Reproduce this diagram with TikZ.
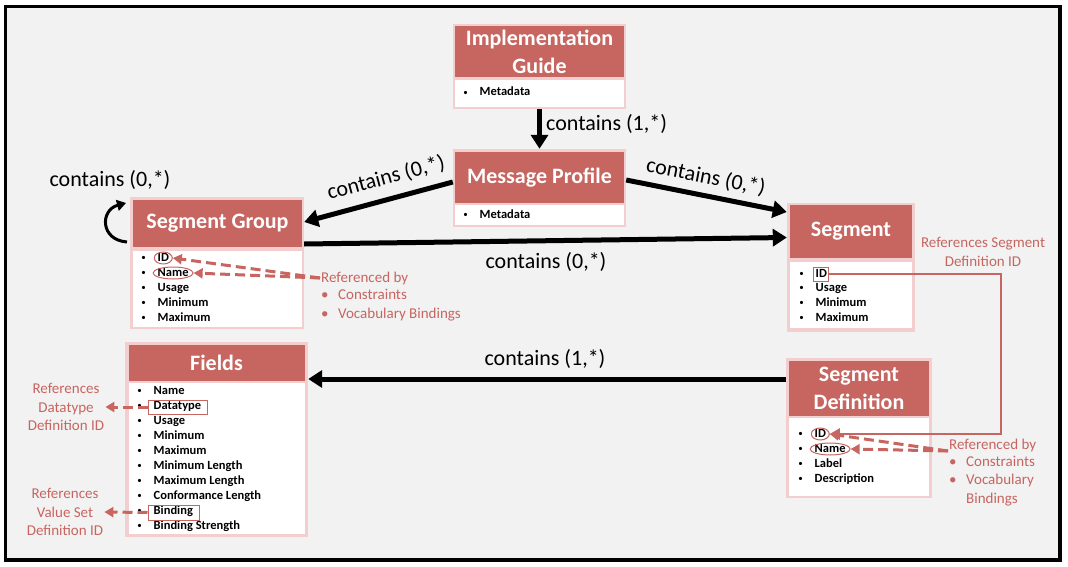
\documentclass[tikz,border=0pt]{standalone}
\usepackage{fontspec}
\setmainfont{Carlito}
\usetikzlibrary{arrows.meta,shapes.geometric,positioning}
\definecolor{headred}{RGB}{199,101,96}
\definecolor{framepink}{RGB}{242,207,206}
\definecolor{annored}{RGB}{199,101,96}
\definecolor{canvas}{RGB}{242,242,242}
\tikzset{
  entframe/.style={fill=framepink, inner sep=0pt},
  enthead/.style={fill=headred, text=white, inner sep=0pt, align=center, font=\bfseries\fontsize{22}{28}\selectfont},
  entbody/.style={fill=white, inner sep=0pt},
  entitem/.style={anchor=west, inner sep=0.5pt, text height=8.5pt, text depth=2.5pt,
    font=\bfseries\fontsize{12.5}{14}\selectfont,
    label={[font=\fontsize{9}{9}\selectfont, inner sep=0pt, label distance=11pt]left:•}},
  contlabel/.style={font=\fontsize{22}{26}\selectfont, inner sep=1pt},
  annotext/.style={text=annored, inner sep=1pt, font=\fontsize{15}{18.5}\selectfont},
  annoring/.style={ellipse, draw=annored, line width=1pt, inner sep=0pt},
  annobox/.style={draw=annored, line width=1pt, inner sep=0pt},
  bigarrow/.style={line width=5pt, -{Triangle[length=14pt,width=17pt]}},
  looparrow/.style={line width=3pt, -{Triangle[length=9pt,width=11pt]}},
  annodash/.style={draw=annored, line width=3pt, dash pattern=on 10pt off 5pt, -{Triangle[length=9pt,width=10pt]}},
  annoline/.style={draw=annored, line width=2.5pt, -{Triangle[length=10pt,width=11pt]}}
}
\begin{document}
\begin{tikzpicture}[x=1pt,y=-1pt]
  \useasboundingbox (0,0) rectangle (1068,567);
  \draw[line width=3.5pt, fill=canvas] (5.5,6.5) rectangle (1060,560);

  \node[entframe, minimum width=173, minimum height=85] (igframe) at (539.5,66.5) {};
  \node[enthead, minimum width=169, minimum height=51] (ighead) at (539.5,51.5) {Implementation\\Guide};
  \node[entbody, minimum width=169, minimum height=27] (igbody) at (539.5,93.5) {};
  \node[entitem] (igmeta) at (479,93) {Metadata};

  \node[entframe, minimum width=173, minimum height=78] (mpframe) at (539.5,188) {};
  \node[enthead, minimum width=169, minimum height=51] (mphead) at (539.5,177.5) {Message Profile};
  \node[entbody, minimum width=169, minimum height=20] (mpbody) at (539.5,215) {};
  \node[entitem] (mpmeta) at (479,215) {Metadata};

  \node[entframe, minimum width=174, minimum height=132] (sgframe) at (217,263) {};
  \node[enthead, minimum width=169, minimum height=47] (sghead) at (217.5,223.5) {Segment Group};
  \node[entbody, minimum width=169, minimum height=76] (sgbody) at (217.5,289) {};
  \node[entitem] (sgid) at (157,258) {ID};
  \node[entitem] (sgname) at (157,273) {Name};
  \node[entitem] (sgusage) at (157,288) {Usage};
  \node[entitem] (sgmin) at (157,303) {Minimum};
  \node[entitem] (sgmax) at (157,318) {Maximum};

  \node[entframe, minimum width=128, minimum height=129] (segframe) at (851,267.5) {};
  \node[enthead, minimum width=122, minimum height=53] (seghead) at (851,231.5) {Segment};
  \node[entbody, minimum width=122, minimum height=66] (segbody) at (851,295) {};
  \node[entitem] (segid) at (815,274) {ID};
  \node[entitem] (segusage) at (815,288) {Usage};
  \node[entitem] (segmin) at (815,303) {Minimum};
  \node[entitem] (segmax) at (815,318) {Maximum};

  \node[entframe, minimum width=183, minimum height=195] (fdframe) at (216.5,439.5) {};
  \node[enthead, minimum width=176, minimum height=36] (fdhead) at (216.5,363) {Fields};
  \node[entbody, minimum width=176, minimum height=151] (fdbody) at (216.5,458.5) {};
  \node[entitem] (fdname) at (153,391) {Name};
  \node[entitem] (fdtype) at (153,406) {Datatype};
  \node[entitem] (fdusage) at (153,421) {Usage};
  \node[entitem] (fdmin) at (153,436) {Minimum};
  \node[entitem] (fdmax) at (153,451) {Maximum};
  \node[entitem] (fdminlen) at (153,466) {Minimum Length};
  \node[entitem] (fdmaxlen) at (153,481) {Maximum Length};
  \node[entitem] (fdconflen) at (153,496) {Conformance Length};
  \node[entitem] (fdbind) at (153,511) {Binding};
  \node[entitem] (fdbindstr) at (153,526) {Binding Strength};

  \node[entframe, minimum width=146, minimum height=140] (sdframe) at (859,428) {};
  \node[enthead, minimum width=140, minimum height=55] (sdhead) at (859,388.5) {Segment\\Definition};
  \node[entbody, minimum width=140, minimum height=78] (sdbody) at (859,457) {};
  \node[entitem] (sdid) at (814,434) {ID};
  \node[entitem] (sdname) at (814,449) {Name};
  \node[entitem] (sdlabel) at (814,464) {Label};
  \node[entitem] (sddesc) at (814,479) {Description};

  \node[annoring, minimum width=18, minimum height=12] (sgidring) at (sgid) {};
  \node[annoring, minimum width=40, minimum height=12] (sgnamering) at (sgname) {};
  \node[annoring, minimum width=18, minimum height=12] (sdidring) at (sdid) {};
  \node[annoring, minimum width=40, minimum height=12] (sdnamering) at (sdname) {};
  \node[annobox, minimum width=15, minimum height=14] (segidbox) at (segid) {};
  \node[annobox, minimum width=59, minimum height=14] (fdtypebox) at (177.5,407) {};
  \node[annobox, minimum width=51, minimum height=15] (fdbindbox) at (173.5,512.5) {};

  \node[contlabel, anchor=west] (igmplabel) at (545,124) {contains (1,*)};
  \node[contlabel] (sgsglabel) at (110,180) {contains (0,*)};
  \node[contlabel, rotate=15] (mpsglabel) at (386,178) {contains (0,*)};
  \node[contlabel, rotate=-11] (mpseglabel) at (706,177) {contains (0,*)};
  \node[contlabel] (sgseglabel) at (546,262) {contains (0,*)};
  \node[contlabel] (sdfdlabel) at (545,359) {contains (1,*)};

  \node[annotext, anchor=west] (sgref) at (320,278) {Referenced by};
  \node[annotext, anchor=west, align=left] (sgreflist) at (320,305) {\makebox[17pt][l]{•}Constraints\\\makebox[17pt][l]{•}Vocabulary Bindings};
  \node[annotext, anchor=west] (sdref) at (948,445) {Referenced by};
  \node[annotext, anchor=west, align=left] (sdreflist) at (948,481) {\makebox[17pt][l]{•}Constraints\\\makebox[17pt][l]{•}Vocabulary\\\makebox[17pt][l]{}Bindings};
  \node[annotext, align=center] (segref) at (983,252) {References Segment\\Definition ID};
  \node[annotext, align=center] (fdtyperef) at (66,407) {References\\Datatype\\Definition ID};
  \node[annotext, align=center] (fdbindref) at (65,512) {References\\Value Set\\Definition ID};

  \draw[bigarrow] (igframe.south) -- (mpframe.north);
  \draw[bigarrow] ([yshift=6pt]mpframe.west) -- ([yshift=41pt]sgframe.east);
  \draw[bigarrow] ([yshift=8pt]mpframe.east) -- ([yshift=55.5pt]segframe.west);
  \draw[bigarrow] ([yshift=19pt]sgframe.east) -- ([yshift=30pt]segframe.west);
  \draw[bigarrow] ([yshift=49pt]sdframe.west) -- ([yshift=60.5pt]fdframe.east);

  \coordinate (sgloopin) at (127,242);
  \coordinate (sgloopout) at (126,203);
  \draw[looparrow] (sgloopin) .. controls (100,240) and (100,210) .. (sgloopout);

  \draw[annodash] (sgref.west) -- (sgidring.east);
  \draw[annodash] (sgref.west) -- (sgnamering.east);
  \draw[annodash] ([yshift=-6pt]sdref.west) -- (sdidring.east);
  \draw[annodash] ([yshift=-6pt]sdref.west) -- (sdnamering.east);
  \draw[annodash] (fdtypebox.west) -- (fdtyperef.east);
  \draw[annodash] (fdbindbox.west) -- (fdbindref.east);

  \coordinate (segrefturn) at (1001,434);
  \draw[annoline] (segidbox.east) -| (segrefturn) -- (sdidring.east);
\end{tikzpicture}
\end{document}
